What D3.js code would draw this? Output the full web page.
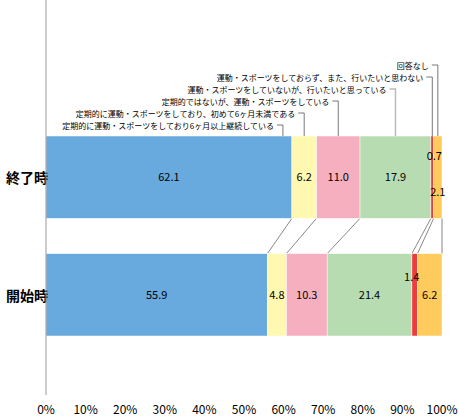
<!DOCTYPE html><html><head><meta charset="utf-8"><script src="https://cdn.jsdelivr.net/npm/d3@7"></script>
<style>body{margin:0;background:#fff}text{font-family:"Noto Sans CJK JP",sans-serif}</style></head><body><svg id="c" width="459" height="417"></svg><script>
const categories=["終了時","開始時"];
const seriesNames=["定期的に運動・スポーツをしており6ヶ月以上継続している","定期的に運動・スポーツをしており、初めて6ヶ月未満である","定期的ではないが、運動・スポーツをしている","運動・スポーツをしていないが、行いたいと思っている","運動・スポーツをしておらず、また、行いたいと思わない","回答なし"];
const endValues=[62.1,6.2,11.0,17.9,0.7,2.1];
const startValues=[55.9,4.8,10.3,21.4,1.4,6.2];
const ticks=[0,10,20,30,40,50,60,70,80,90,100];
const colors=["#68a9de","#fff8b0","#f6afbf","#b8dcb1","#ee3b3b","#ffcb5c"];
const svg=d3.select("#c");
const x=d3.scaleLinear().domain([0,100]).range([46,442]);
const y=d3.scaleBand().domain(categories).range([136,336]).paddingInner(0.3);
const data=[endValues,startValues];
const stacks=data.map(v=>{let c=0;return v.map(d=>{const s=c;c+=d;return[s,c];});});
for(let i=0;i<6;i++){const a=stacks[0][i][1],b=stacks[1][i][1];
 svg.append("line").attr("x1",x(a)).attr("y1",y(categories[0])+y.bandwidth()).attr("x2",x(b)).attr("y2",y(categories[1])).attr("stroke","#555").attr("stroke-width",0.7);}
categories.forEach((c,ci)=>{
 svg.selectAll(null).data(stacks[ci]).enter().append("rect").attr("x",d=>x(d[0])).attr("width",d=>x(d[1])-x(d[0])).attr("y",y(c)).attr("height",y.bandwidth()).attr("fill",(d,i)=>colors[i]).attr("stroke","#fff").attr("stroke-width",0.5);
 stacks[ci].forEach((d,i)=>{const v=data[ci][i];let tx=x((d[0]+d[1])/2),ty=y(c)+y.bandwidth()/2+4;
  if(i==4){ty=y(c)+y.bandwidth()/2-(ci==0?17:14);tx=tx+(ci==0?2:-3);}
  if(i==5&&ci==0){ty+=15;}
  svg.append("text").attr("x",tx).attr("y",ty).attr("text-anchor","middle").attr("font-size",11).text(v.toFixed(1));});
 svg.append("text").attr("x",6).attr("y",y(c)+y.bandwidth()/2+6).attr("font-size",14).attr("font-weight","bold").text(c);
});
const ly=[125,113,101,89,77,65];
stacks[0].forEach((d,i)=>{const cx=i==0?x(d[1])-9:x((d[0]+d[1])/2);
 svg.append("path").attr("d",`M${cx},${y(categories[0])}V${ly[i]}H${cx-6}`).attr("fill","none").attr("stroke",i==3?"#bbb":"#555").attr("stroke-width",i==3?1.5:0.8);
 svg.append("text").attr("x",cx-9).attr("y",ly[i]+3.5).attr("text-anchor","end").attr("font-size",8).text(seriesNames[i]);});
svg.append("line").attr("x1",46).attr("x2",46).attr("y1",0).attr("y2",395).attr("stroke","#999");
svg.selectAll(null).data(ticks).enter().append("text").attr("x",d=>x(d)).attr("y",414).attr("text-anchor","middle").attr("font-size",12).text(d=>d+"%");
</script></body></html>
